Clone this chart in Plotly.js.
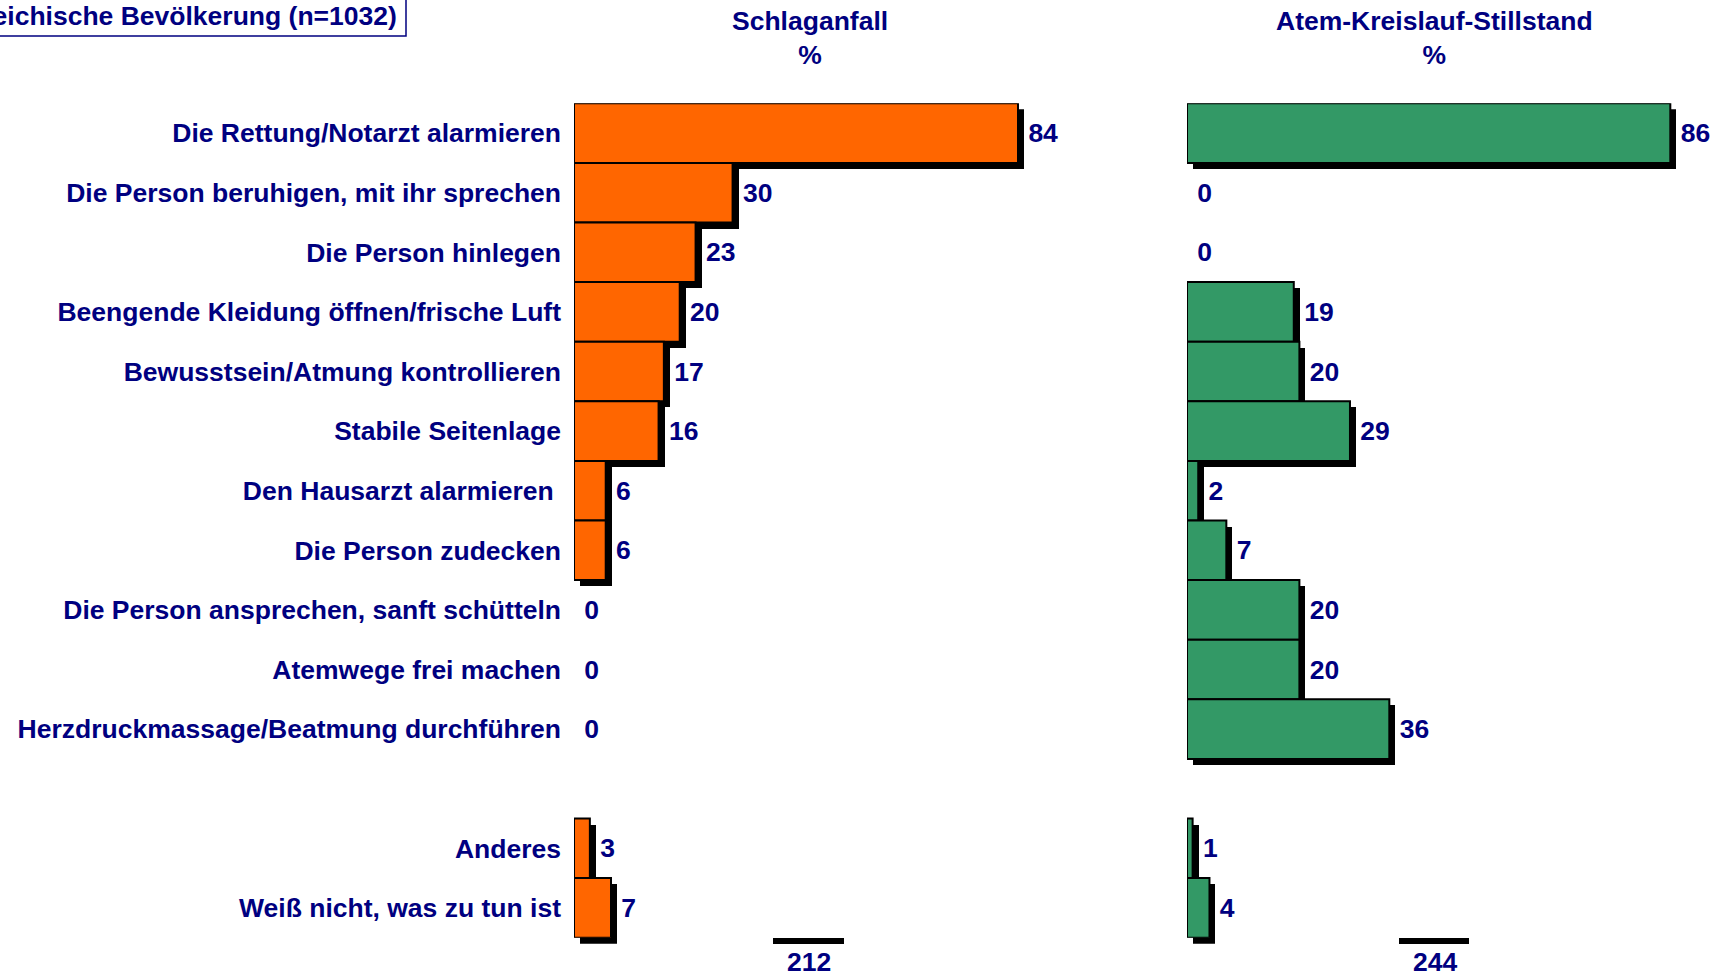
<!DOCTYPE html>
<html>
<head>
<meta charset="utf-8">
<script src="https://cdn.plot.ly/plotly-3.0.1.min.js"></script>
<style>html,body{margin:0;padding:0;background:#fff;}#chart{width:1720px;height:975px;}</style>
</head>
<body>
<div id="chart"></div>
<script>
// ---- data ----
const categories = [
  "Die Rettung/Notarzt alarmieren",
  "Die Person beruhigen, mit ihr sprechen",
  "Die Person hinlegen",
  "Beengende Kleidung öffnen/frische Luft",
  "Bewusstsein/Atmung kontrollieren",
  "Stabile Seitenlage",
  "Den Hausarzt alarmieren\u00a0",
  "Die Person zudecken",
  "Die Person ansprechen, sanft schütteln",
  "Atemwege frei machen",
  "Herzdruckmassage/Beatmung durchführen"
];
const otherCategories = ["Anderes", "Weiß nicht, was zu tun ist"];
const schlaganfall = [84, 30, 23, 20, 17, 16, 6, 6, 0, 0, 0];
const schlaganfallOther = [3, 7];
const stillstand = [86, 0, 0, 19, 20, 29, 2, 7, 20, 20, 36];
const stillstandOther = [1, 4];
const panelTitles = ["Schlaganfall<br>%", "Atem-Kreislauf-Stillstand<br>%"];
const sampleLabel = "Österreichische Bevölkerung (n=1032)";

// ---- helpers ----
const W = 1720, H = 975;
const px = v => v / W;
const py = v => (H - v) / H;
const SPACER = "\u2007";
const yCats = [...categories, SPACER, ...otherCategories];
const join = (a, b) => [...a, null, ...b];
const s1 = join(schlaganfall, schlaganfallOther);
const s2 = join(stillstand, stillstandOther);
const sum = a => a.reduce((t, v) => t + (v || 0), 0);
const navy = "#000080";
const FONT = "Liberation Sans, Arial, Helvetica, sans-serif";
const FS = 26.5;
const boldFont = {family: FONT, size: FS, color: navy, weight: "bold"};
const textOf = a => a.map(v => v == null ? "" : "\u00a0" + v);

const shadowDX = 6, shadowDY = 6;
const leftX = [574, 574 + 100 * 5.286];
const rightX = [1187, 1187 + 90 * 5.62];
const rowTop = 103.3, rowH = 59.6;
const yDom = [py(rowTop + yCats.length * rowH), py(rowTop)];
const yDomS = [py(rowTop + yCats.length * rowH + shadowDY), py(rowTop + shadowDY)];

function shadow(x, xa, ya) {
  return {type: "bar", orientation: "h", x: x, y: yCats, xaxis: xa, yaxis: ya,
    marker: {color: "#000000", line: {width: 0}}, hoverinfo: "skip", showlegend: false};
}
function main(x, color, xa, ya) {
  return {type: "bar", orientation: "h", x: x, y: yCats, xaxis: xa, yaxis: ya,
    marker: {color: color, line: {color: "#000000", width: x.map(v => v ? 2 : 0)}},
    text: textOf(x), textposition: "outside", cliponaxis: false,
    textfont: boldFont, showlegend: false};
}

const data = [
  shadow(s1, "x", "y"),
  shadow(s2, "x2", "y2"),
  main(s1, "#FF6600", "x3", "y3"),
  main(s2, "#339966", "x4", "y4")
];

const yBase = {type: "category", categoryorder: "array", categoryarray: yCats,
  autorange: "reversed", showgrid: false, zeroline: false, showline: false, ticks: ""};
const xBase = {showgrid: false, zeroline: false, showline: false, showticklabels: false, ticks: "", fixedrange: true};

const layout = {
  width: W, height: H,
  margin: {l: 0, r: 0, t: 0, b: 0},
  paper_bgcolor: "#ffffff", plot_bgcolor: "rgba(0,0,0,0)",
  bargap: 0,
  font: boldFont,
  xaxis:  Object.assign({}, xBase, {range: [0, 100], domain: [px(leftX[0] + shadowDX), px(leftX[1] + shadowDX)], anchor: "y"}),
  yaxis:  Object.assign({}, yBase, {domain: yDomS, anchor: "x", showticklabels: false}),
  xaxis2: Object.assign({}, xBase, {range: [0, 90], domain: [px(rightX[0] + shadowDX), px(rightX[1] + shadowDX)], anchor: "y2"}),
  yaxis2: Object.assign({}, yBase, {domain: yDomS, anchor: "x2", showticklabels: false}),
  xaxis3: Object.assign({}, xBase, {range: [0, 100], domain: [px(leftX[0]), px(leftX[1])], anchor: "y3"}),
  yaxis3: Object.assign({}, yBase, {domain: yDom, anchor: "x3", showticklabels: true, ticklabelstandoff: 12,
    tickfont: boldFont}),
  xaxis4: Object.assign({}, xBase, {range: [0, 90], domain: [px(rightX[0]), px(rightX[1])], anchor: "y4"}),
  yaxis4: Object.assign({}, yBase, {domain: yDom, anchor: "x4", showticklabels: false}),
  shapes: [
    {type: "rect", xref: "paper", yref: "paper", x0: px(-5), x1: px(406), y0: py(36), y1: py(-5),
      line: {color: navy, width: 1.5}, fillcolor: "rgba(0,0,0,0)"},
    {type: "line", xref: "paper", yref: "paper", x0: px(773), x1: px(844), y0: py(941), y1: py(941),
      line: {color: "#000000", width: 6}},
    {type: "line", xref: "paper", yref: "paper", x0: px(1399), x1: px(1469), y0: py(941), y1: py(941),
      line: {color: "#000000", width: 6}}
  ],
  annotations: [
    {xref: "paper", yref: "paper", x: px(399), y: py(16), xanchor: "right", yanchor: "middle",
      text: sampleLabel, showarrow: false, font: boldFont},
    {xref: "paper", yref: "paper", x: px(810), y: py(4), xanchor: "center", yanchor: "top",
      text: panelTitles[0], showarrow: false, font: boldFont},
    {xref: "paper", yref: "paper", x: px(1434), y: py(4), xanchor: "center", yanchor: "top",
      text: panelTitles[1], showarrow: false, font: boldFont},
    {xref: "paper", yref: "paper", x: px(809), y: py(962), xanchor: "center", yanchor: "middle",
      text: String(sum(s1)), showarrow: false, font: boldFont},
    {xref: "paper", yref: "paper", x: px(1435), y: py(962), xanchor: "center", yanchor: "middle",
      text: String(sum(s2)), showarrow: false, font: boldFont}
  ]
};

Plotly.newPlot("chart", data, layout, {displayModeBar: false, staticPlot: true});
</script>
</body>
</html>
